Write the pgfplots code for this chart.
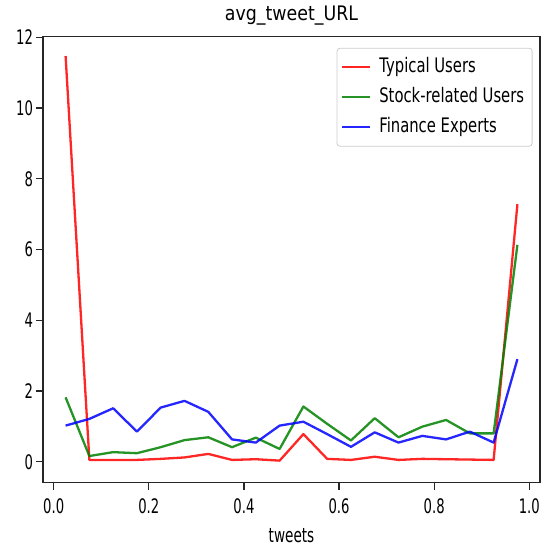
\documentclass[border=0pt]{standalone}
\usepackage{fontspec}
\setmainfont{DejaVu Sans}
\newfontfamily\tickfont{DejaVu Sans}[FakeStretch=0.66]
\newfontfamily\legfont{DejaVu Sans}[FakeStretch=0.74]
\newfontfamily\labfont{DejaVu Sans}[FakeStretch=0.68]
\newfontfamily\titfont{DejaVu Sans}[FakeStretch=0.87]
\usepackage{pgfplots}
\usepackage{pgfplotstable}
\pgfplotsset{compat=1.18}

% average URLs per tweet, by tweet percentile
\pgfplotstableread{
x     typical stock finance
0.025 11.47   1.82  1.02
0.075 0.05    0.16  1.21
0.125 0.05    0.27  1.51
0.175 0.05    0.24  0.85
0.225 0.08    0.41  1.53
0.275 0.12    0.61  1.72
0.325 0.22    0.69  1.41
0.375 0.05    0.41  0.63
0.425 0.07    0.68  0.54
0.475 0.03    0.36  1.02
0.525 0.78    1.56  1.13
0.575 0.08    1.07  0.78
0.625 0.05    0.60  0.42
0.675 0.14    1.23  0.83
0.725 0.05    0.69  0.54
0.775 0.08    0.99  0.73
0.825 0.07    1.18  0.63
0.875 0.06    0.80  0.85
0.925 0.05    0.80  0.54
0.975 7.28    6.13  2.90
}\urldata

\definecolor{mplred}{rgb}{1,0,0}
\definecolor{mplgreen}{rgb}{0,0.5,0}
\definecolor{mplblue}{rgb}{0,0,1}

\newcommand{\sz}{\fontsize{20}{24}\selectfont}

\begin{document}
\begin{tikzpicture}[x=1pt,y=1pt]
\useasboundingbox (0,0) rectangle (541,550);
\begin{axis}[
  at={(43pt,67.3pt)}, anchor=south west,
  width=497pt, height=446pt, scale only axis,
  xmin=-0.0225, xmax=1.0225,
  ymin=-0.594, ymax=12.016,
  xtick={0,0.2,0.4,0.6,0.8,1.0},
  ytick={0,2,4,6,8,10,12},
  tick pos=left,
  tick align=outside,
  major tick length=7pt,
  axis line style={black!85, line width=1.3pt},
  tick style={black!85, line width=1.3pt},
  /pgf/number format/assume math mode=true,
  x tick label style={/pgf/number format/fixed, /pgf/number format/fixed zerofill, /pgf/number format/precision=1},
  xticklabel style={font=\tickfont\sz, anchor=base, yshift=-23.9pt},
  yticklabel style={font=\tickfont\sz, anchor=base east, xshift=0.5pt, yshift=-7.5pt},
  title={avg\_tweet\_URL},
  title style={font=\titfont\sz, anchor=base, at={(axis description cs:0.5,1)}, yshift=10.7pt},
  xlabel={tweets},
  xlabel style={font=\labfont\sz, anchor=base, at={(axis description cs:0.5,0)}, yshift=-60pt},
  legend style={
    at={(0.985,0.975)}, anchor=north east,
    draw=black!20, line width=0.8pt, rounded corners=3pt,
    fill=white, fill opacity=0.8, text opacity=1,
    font=\legfont\sz,
    inner xsep=4pt, inner ysep=10pt,
    row sep=12pt,
    nodes={inner xsep=4pt, inner ysep=0pt, text height=14pt, text depth=4pt},
  },
  legend cell align=left,
  legend image code/.code={
    \draw[#1, line width=2.3pt] (0pt,0pt) -- (28pt,0pt);
    \path (32pt,0pt);
  },
  every axis plot/.append style={line width=2.3pt, line join=round, draw opacity=0.85},
]
\addplot[mplred, no markers] table[x=x, y=typical] {\urldata};
\addlegendentry{Typical Users}
\addplot[mplgreen, no markers] table[x=x, y=stock] {\urldata};
\addlegendentry{Stock-related Users}
\addplot[mplblue, no markers] table[x=x, y=finance] {\urldata};
\addlegendentry{Finance Experts}
\end{axis}
\end{tikzpicture}
\end{document}
